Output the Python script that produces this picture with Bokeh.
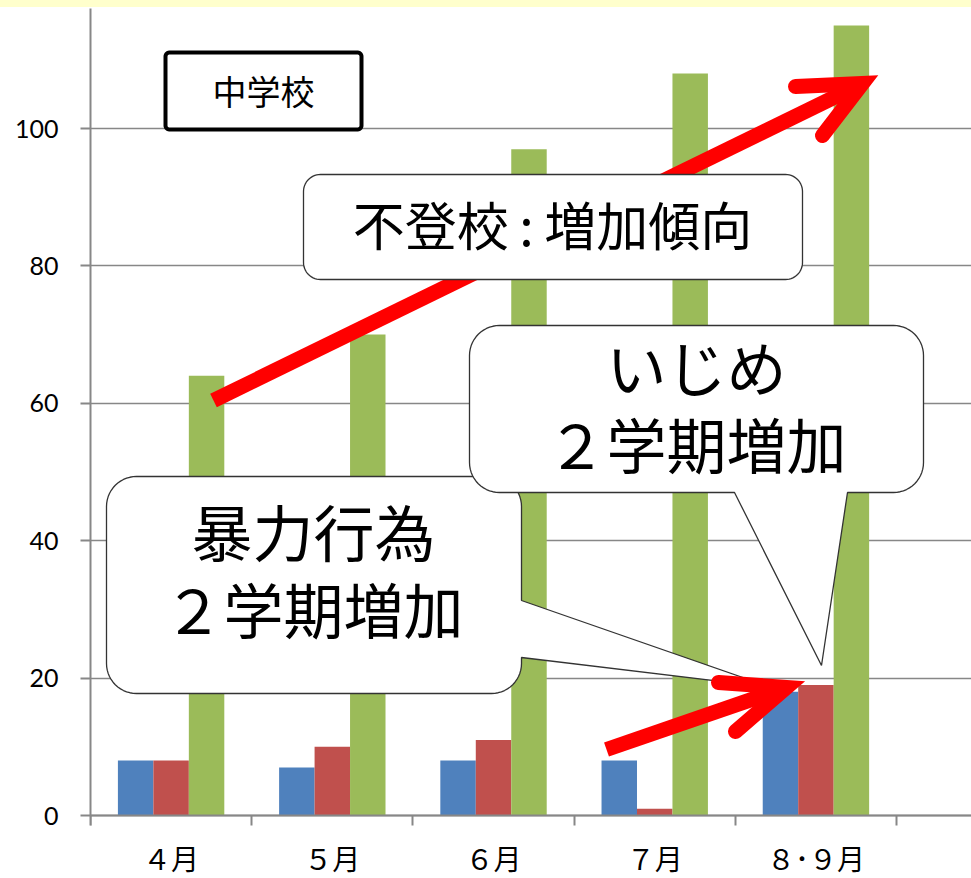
import math
from bokeh.plotting import figure
from bokeh.models import Range1d, FixedTicker, ColumnDataSource, Div
from bokeh.layouts import column
from bokeh.core.properties import value
from bokeh.embed import file_html
from bokeh.resources import INLINE

# ---------------- data ----------------
categories = ["４月", "５月", "６月", "７月", "８･９月"]
violence = [8, 7, 8, 8, 18]          # blue
bullying = [8, 10, 11, 1, 19]        # red
absence = [64, 70, 97, 108, 115]     # green
y_ticks = [0, 20, 40, 60, 80, 100]

title_text = "中学校"
note_absence = "不登校\u2009:\u2009増加傾向"
note_bullying = ["いじめ", "２学期増加"]
note_violence = ["暴力行為", "２学期増加"]

# ---------------- geometry (page pixels) ----------------
BAND_H = 7
PAGE_H = 878
FIG_W, FIG_H = 971, PAGE_H - BAND_H
FRAME_L, FRAME_R, FRAME_T, AXIS_Y = 90, 971, 8, 815
X_START = 0.5
X_END = X_START + 5.465
Y_END = 117.47
XU = (FRAME_R - FRAME_L) / (X_END - X_START)
YU = (AXIS_Y - FRAME_T) / Y_END
Y_START = -(PAGE_H - AXIS_Y) / YU

CJK = value("Noto Sans CJK JP")
GRAY = "#878787"


def px_x(px):
    return X_START + (px - FRAME_L) / XU


def px_y(py):
    return (AXIS_Y - py) / YU


def callout_pts(x0, y0, x1, y1, r, tail=None, n=14):
    pts = []

    def arc(cx, cy, a0, a1):
        for k in range(n + 1):
            t = math.radians(a0 + (a1 - a0) * k / n)
            pts.append((cx + r * math.cos(t), cy + r * math.sin(t)))

    arc(x0 + r, y0 + r, 180, 270)
    arc(x1 - r, y0 + r, 270, 360)
    if tail and tail[0] == "right":
        _, a, b, tx, ty = tail
        pts.extend([(x1, a), (tx, ty), (x1, b)])
    arc(x1 - r, y1 - r, 0, 90)
    if tail and tail[0] == "bottom":
        _, a, b, tx, ty = tail
        pts.extend([(b, y1), (tx, ty), (a, y1)])
    arc(x0 + r, y1 - r, 90, 180)
    return [px_x(x) for x, _ in pts], [px_y(y) for _, y in pts]


p = figure(width=FIG_W, height=FIG_H,
           x_range=Range1d(X_START, X_END), y_range=Range1d(Y_START, Y_END),
           output_backend="svg", toolbar_location=None,
           min_border_left=FRAME_L, min_border_right=0,
           min_border_top=FRAME_T - BAND_H, min_border_bottom=0)
p.background_fill_color = "white"
p.border_fill_color = "white"
p.outline_line_color = None

p.xgrid.visible = False
p.ygrid.ticker = FixedTicker(ticks=y_ticks)
p.ygrid.grid_line_color = GRAY
p.ygrid.grid_line_width = 1.4

p.yaxis.ticker = FixedTicker(ticks=y_ticks, minor_ticks=[])
p.yaxis.bounds = (px_y(AXIS_Y + 10), Y_END)
p.yaxis.axis_line_color = GRAY
p.yaxis.axis_line_width = 2
p.yaxis.major_tick_line_color = GRAY
p.yaxis.major_tick_line_width = 2
p.yaxis.major_tick_out = 10
p.yaxis.major_tick_in = 0
p.yaxis.major_label_text_font = "Lato"
p.yaxis.major_label_text_font_size = "25px"
p.yaxis.major_label_text_color = "black"
p.yaxis.major_label_standoff = 22

idx = list(range(1, len(categories) + 1))
p.xaxis.fixed_location = 0
p.xaxis.ticker = FixedTicker(ticks=idx, minor_ticks=[i - 0.5 for i in idx] + [idx[-1] + 0.5])
p.xaxis.major_label_overrides = {i: c for i, c in zip(idx, categories)}
p.xaxis.axis_line_color = GRAY
p.xaxis.axis_line_width = 2
p.xaxis.major_tick_line_color = None
p.xaxis.major_tick_out = 0
p.xaxis.major_tick_in = 0
p.xaxis.minor_tick_line_color = GRAY
p.xaxis.minor_tick_line_width = 2
p.xaxis.minor_tick_out = 10
p.xaxis.minor_tick_in = 0
p.xaxis.major_label_text_font = "Noto Sans CJK JP"
p.xaxis.major_label_text_font_size = "28px"
p.xaxis.major_label_text_color = "black"
p.xaxis.major_label_standoff = 12

# ---------------- bars ----------------
W = 0.22
src = ColumnDataSource(dict(
    xb=[i - W for i in idx],
    xr=[i for i in idx],
    xg=[i + W for i in idx],
    blue=violence, red=bullying, green=absence))
p.vbar(x="xb", top="blue", width=W, source=src, fill_color="#4F81BD", line_color=None)
p.vbar(x="xr", top="red", width=W, source=src, fill_color="#C0504D", line_color=None)
p.vbar(x="xg", top="green", width=W, source=src, fill_color="#9BBB59", line_color=None)


def arrow(start, tip, arm1, arm2, w=15):
    p.line([px_x(start[0]), px_x(tip[0])], [px_y(start[1]), px_y(tip[1])],
           line_width=w, line_color="#FF0000", line_cap="butt")
    p.line([px_x(arm1[0]), px_x(tip[0]), px_x(arm2[0])],
           [px_y(arm1[1]), px_y(tip[1]), px_y(arm2[1])],
           line_width=w, line_color="#FF0000", line_cap="round", line_join="miter")


def cjk_text(x, y, txt, size):
    y = y - 0.08 * size
    p.text(x=[px_x(x)], y=[px_y(y)], text=[txt], text_font=CJK,
           text_font_size="%dpx" % size, text_align="center", text_baseline="middle",
           text_color="black")


# arrow 1 (absence trend)
arrow((213, 400), (862, 83), (795, 86), (822, 135))

# 不登校 callout
xs, ys = callout_pts(303, 174, 802, 279, 17)
p.patch(xs, ys, fill_color="white", line_color="#333333", line_width=1.3)
cjk_text(552, 227, note_absence, 52)

# 暴力行為 callout
xs, ys = callout_pts(106, 476, 521, 693, 30, tail=("right", 600, 657, 771, 687))
p.patch(xs, ys, fill_color="white", line_color="#333333", line_width=1.3)
cjk_text(313, 535, note_violence[0], 61)
cjk_text(313, 612, note_violence[1], 60)

# いじめ callout
xs, ys = callout_pts(469, 325, 923, 492, 30, tail=("bottom", 734, 847, 821, 665))
p.patch(xs, ys, fill_color="white", line_color="#333333", line_width=1.3)
cjk_text(696, 370, note_bullying[0], 60)
cjk_text(696, 447, note_bullying[1], 60)

# arrow 2 (2nd term increase)
arrow((606, 749), (786, 687), (718, 682), (735, 731))

# 中学校 box
xs, ys = callout_pts(165, 52, 361, 129, 4)
p.patch(xs, ys, fill_color="white", line_color="black", line_width=4)
cjk_text(263, 93, title_text, 34)

band = Div(width=FIG_W, height=BAND_H, margin=0,
           styles={"background-color": "#FFFFCC"})
layout = column(band, p, spacing=0, margin=0)

open("out.html", "w").write(file_html(layout, INLINE))
